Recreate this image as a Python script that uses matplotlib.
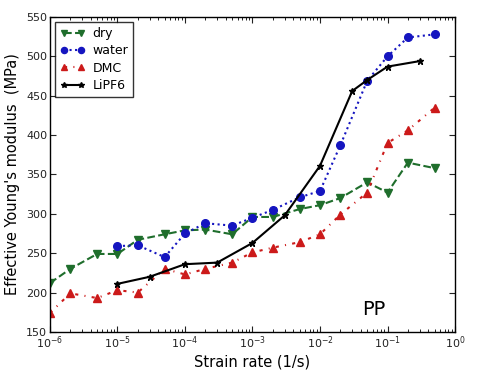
import matplotlib
matplotlib.use("Agg")
import matplotlib.pyplot as plt
import numpy as np

# strain rates (1/s)
dry_x = [1e-6, 2e-6, 5e-6, 1e-5, 2e-5, 5e-5, 1e-4, 2e-4, 5e-4, 1e-3, 2e-3, 5e-3, 1e-2, 2e-2, 5e-2, 1e-1, 2e-1, 5e-1]
dry_y = [212, 230, 249, 249, 267, 274, 279, 280, 274, 296, 296, 306, 311, 320, 340, 327, 365, 358]

water_x = [1e-5, 2e-5, 5e-5, 1e-4, 2e-4, 5e-4, 1e-3, 2e-3, 5e-3, 1e-2, 2e-2, 5e-2, 1e-1, 2e-1, 5e-1]
water_y = [259, 260, 245, 275, 288, 285, 295, 305, 321, 329, 387, 469, 500, 524, 528]

dmc_x = [1e-6, 2e-6, 5e-6, 1e-5, 2e-5, 5e-5, 1e-4, 2e-4, 5e-4, 1e-3, 2e-3, 5e-3, 1e-2, 2e-2, 5e-2, 1e-1, 2e-1, 5e-1]
dmc_y = [174, 199, 193, 203, 200, 230, 223, 230, 238, 251, 257, 264, 274, 299, 327, 390, 406, 435]

lipf6_x = [1e-5, 3e-5, 1e-4, 3e-4, 1e-3, 3e-3, 1e-2, 3e-2, 5e-2, 1e-1, 3e-1]
lipf6_y = [211, 220, 236, 238, 263, 298, 361, 456, 470, 487, 494]

plt.rcParams.update({
    "font.family": "DejaVu Sans",
    "xtick.direction": "in",
    "ytick.direction": "in",
    "xtick.top": True,
    "ytick.right": True,
    "xtick.major.size": 4,
    "ytick.major.size": 4,
    "xtick.minor.size": 2,
    "axes.linewidth": 1.0,
})

fig = plt.figure(figsize=(4.8, 3.7), dpi=100, facecolor="white")
ax = fig.add_axes([0.104, 0.103, 0.844, 0.851])

ax.plot(dry_x, dry_y, "--v", color="#1f6e2c", mec="#1f6e2c", ms=5.5, lw=1.5, label="dry")
ax.plot(water_x, water_y, ":o", color="#1515c0", mec="#1515c0", ms=5.5, lw=1.5, label="water")
ax.plot(dmc_x, dmc_y, "-.^", color="#cc1a1a", mec="#cc1a1a", ms=5.5, lw=1.5,
        dashes=(1.5, 3, 0.5, 3), label="DMC")
ax.plot(lipf6_x, lipf6_y, "-*", color="black", ms=5, lw=1.5, label="LiPF6")

ax.set_xscale("log")
ax.set_xlim(1e-6, 1e0)
ax.set_ylim(150, 550)
ax.set_yticks(np.arange(150, 551, 50))
ax.tick_params(labelsize=8, colors="#222222", pad=2)
ax.set_xlabel("Strain rate (1/s)", fontsize=10.5, labelpad=2)
ax.set_ylabel("Effective Young's modulus  (MPa)", fontsize=10.5, labelpad=4)

ax.text(0.80, 0.04, "PP", transform=ax.transAxes, fontsize=14, ha="center", va="bottom")

leg = ax.legend(loc="upper left", numpoints=2, fancybox=False, frameon=True,
                fontsize=9, handlelength=2.0, borderaxespad=0.4, markerscale=0.8,
                labelspacing=0.35, borderpad=0.4, handletextpad=0.6)
leg.get_frame().set_edgecolor("black")
leg.get_frame().set_linewidth(1.0)

fig.savefig("out.png", dpi=100, facecolor="white")
